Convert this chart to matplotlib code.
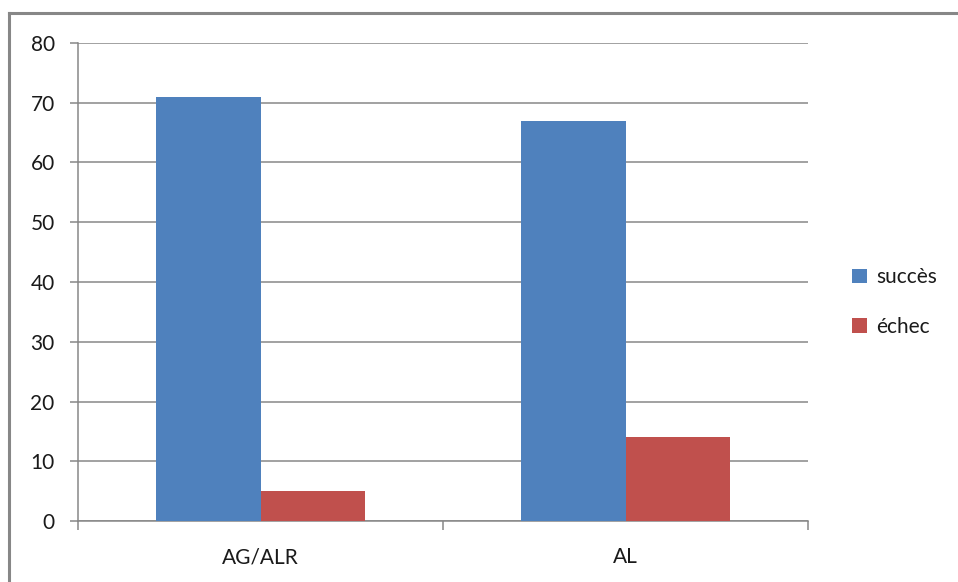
import numpy as np
import matplotlib.pyplot as plt
from matplotlib.lines import Line2D

# Дані
categories = ["AG/ALR", "AL"]
series_names = ["succès", "échec"]
succes = [71, 67]
echec = [5, 14]
colors = ["#4F81BD", "#C0504D"]
yticks = [0, 10, 20, 30, 40, 50, 60, 70, 80]

plt.rcParams['font.family'] = ['Lato', 'DejaVu Sans']

W, H = 958, 582
fig = plt.figure(figsize=(W / 100, H / 100), dpi=100)

# рамка навколо графіка (видно лише зверху та зліва)
fig.add_artist(Line2D([9 / W, 9 / W], [0, 1 - 13 / H], color="#878787", lw=2.2))
fig.add_artist(Line2D([9 / W, 1], [1 - 13 / H, 1 - 13 / H], color="#878787", lw=2.2))

left, right, top, bottom = 78, 808, 43, 521
ax = fig.add_axes([left / W, 1 - bottom / H, (right - left) / W, (bottom - top) / H])

x = np.arange(len(categories))
width = 1 / 3.5
ax.bar(x - width / 2, succes, width, color=colors[0], label=series_names[0], zorder=3)
ax.bar(x + width / 2, echec, width, color=colors[1], label=series_names[1], zorder=3)

ax.set_xlim(-0.5, len(categories) - 0.5)
ax.set_ylim(0, 80)
ax.set_yticks(yticks)
ax.yaxis.grid(True, color="#878787", lw=1.1, zorder=0)

# категорії між поділками
ax.set_xticks(np.arange(len(categories) + 1) - 0.5)
ax.set_xticklabels([])
ax.set_xticks(x, minor=True)
ax.set_xticklabels(categories, minor=True)
ax.tick_params(axis="x", which="minor", length=0, pad=19, labelsize=15, labelcolor="#1a1a1a")
ax.tick_params(axis="x", which="major", length=6.5, width=1.1, color="#878787")
ax.tick_params(axis="y", length=5.8, width=1.1, color="#878787", labelsize=15,
               pad=11, labelcolor="#1a1a1a")

for side in ["top", "right"]:
    ax.spines[side].set_visible(False)
for side in ["left", "bottom"]:
    ax.spines[side].set_color("#878787")
    ax.spines[side].set_linewidth(1.1)

leg = ax.legend(loc="center left", bbox_to_anchor=(1.035, 0.458), frameon=False,
                fontsize=15, handlelength=0.7, handleheight=0.7, labelspacing=1.4,
                handletextpad=0.45)
for t in leg.get_texts():
    t.set_color("#1a1a1a")

plt.savefig("out.png", dpi=100)
